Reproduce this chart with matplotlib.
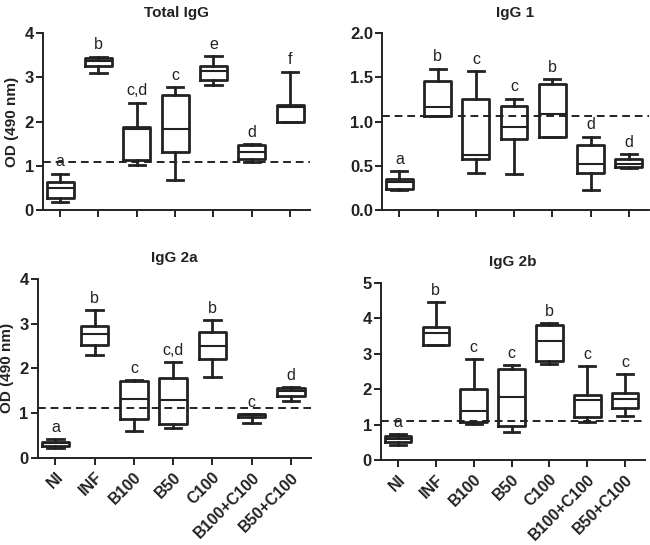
import matplotlib.pyplot as plt

plt.rcParams['font.family'] = ['Liberation Sans', 'DejaVu Sans']

groups = ["NI", "INF", "B100", "B50", "C100", "B100+C100", "B50+C100"]

# Total IgG
tot_lo = [0.17, 3.09, 1.02, 0.68, 2.83, 1.09, 1.98]
tot_q1 = [0.26, 3.26, 1.13, 1.30, 2.94, 1.15, 2.00]
tot_med = [0.49, 3.37, 1.83, 1.83, 3.15, 1.32, 2.32]
tot_q3 = [0.64, 3.45, 1.87, 2.60, 3.25, 1.46, 2.38]
tot_hi = [0.82, 3.47, 2.43, 2.78, 3.49, 1.49, 3.13]
tot_letters = ["a", "b", "c,d", "c", "e", "d", "f"]
tot_cut = 1.09

# IgG 1
g1_lo = [0.23, 1.06, 0.42, 0.41, 0.82, 0.23, 0.47]
g1_q1 = [0.24, 1.06, 0.57, 0.80, 0.83, 0.42, 0.49]
g1_med = [0.32, 1.16, 0.62, 0.94, 1.09, 0.52, 0.52]
g1_q3 = [0.35, 1.46, 1.26, 1.18, 1.42, 0.73, 0.57]
g1_hi = [0.44, 1.60, 1.57, 1.26, 1.48, 0.83, 0.63]
g1_letters = ["a", "b", "c", "c", "b", "d", "d"]
g1_cut = 1.06

# IgG 2a
g2a_lo = [0.21, 2.29, 0.61, 0.67, 1.80, 0.77, 1.28]
g2a_q1 = [0.26, 2.52, 0.86, 0.76, 2.20, 0.91, 1.38]
g2a_med = [0.32, 2.76, 1.32, 1.30, 2.50, 0.95, 1.49]
g2a_q3 = [0.36, 2.96, 1.71, 1.79, 2.81, 0.98, 1.56]
g2a_hi = [0.42, 3.30, 1.74, 2.15, 3.08, 0.98, 1.59]
g2a_letters = ["a", "b", "c", "c,d", "b", "c", "d"]
g2a_cut = 1.11

# IgG 2b
g2b_lo = [0.41, 3.24, 1.02, 0.78, 2.72, 1.06, 1.25]
g2b_q1 = [0.50, 3.24, 1.06, 0.96, 2.80, 1.20, 1.46]
g2b_med = [0.58, 3.58, 1.37, 1.79, 3.37, 1.68, 1.73]
g2b_q3 = [0.68, 3.75, 2.01, 2.58, 3.82, 1.84, 1.89]
g2b_hi = [0.73, 4.46, 2.85, 2.69, 3.87, 2.66, 2.42]
g2b_letters = ["a", "b", "c", "c", "b", "c", "c"]
g2b_cut = 1.11

fig = plt.figure(figsize=(6.5, 5.45), dpi=100)

panels = [
    ("Total IgG", [0.066, 0.615, 0.411, 0.324], tot_lo, tot_q1, tot_med, tot_q3, tot_hi,
     tot_letters, tot_cut, 4, 1, True, False),
    ("IgG 1", [0.588, 0.615, 0.410, 0.324], g1_lo, g1_q1, g1_med, g1_q3, g1_hi,
     g1_letters, g1_cut, 2.0, 0.5, False, False),
    ("IgG 2a", [0.058, 0.160, 0.421, 0.328], g2a_lo, g2a_q1, g2a_med, g2a_q3, g2a_hi,
     g2a_letters, g2a_cut, 4, 1, True, True),
    ("IgG 2b", [0.586, 0.156, 0.406, 0.325], g2b_lo, g2b_q1, g2b_med, g2b_q3, g2b_hi,
     g2b_letters, g2b_cut, 5, 1, False, True),
]

for title, rect, lo, q1, med, q3, hi, letters, cut, ymax, step, ylab, xlab in panels:
    ax = fig.add_axes(rect)
    stats = []
    for i in range(len(groups)):
        stats.append(dict(whislo=lo[i], q1=q1[i], med=med[i], q3=q3[i], whishi=hi[i],
                          fliers=[], label=groups[i]))
    lw = 2.0
    ax.bxp(stats, positions=range(len(groups)), widths=0.7, capwidths=0.42,
           showfliers=False,
           boxprops=dict(color="#222222", linewidth=lw),
           medianprops=dict(color="#222222", linewidth=1.5),
           whiskerprops=dict(color="#222222", linewidth=lw),
           capprops=dict(color="#222222", linewidth=lw))
    ax.axhline(cut, color="#222222", linestyle=(0, (4, 2.5)), linewidth=1.4, zorder=0)
    for i in range(len(groups)):
        ax.annotate(letters[i], (i, hi[i]), xytext=(0, 3), textcoords="offset points",
                    ha="center", va="bottom", fontsize=11.5, color="#222222")
    ax.set_xlim(-0.45, 6.52)
    ax.set_ylim(0, ymax)
    yt = [k * step for k in range(int(round(ymax / step)) + 1)]
    ax.set_yticks(yt)
    if step < 1:
        ax.set_yticklabels([f"{v:.1f}" for v in yt])
    else:
        ax.set_yticklabels([f"{v:g}" for v in yt])
    ax.set_xticks(range(len(groups)))
    if xlab:
        ax.set_xticklabels(groups, rotation=45, ha="right", rotation_mode="anchor",
                           fontsize=11.5, fontweight="bold")
    else:
        ax.set_xticklabels([])
    for lab in ax.get_yticklabels():
        lab.set_fontweight("bold")
        lab.set_fontsize(12)
    ax.spines["top"].set_visible(False)
    ax.spines["right"].set_visible(False)
    for s in ("left", "bottom"):
        ax.spines[s].set_linewidth(1.4)
        ax.spines[s].set_color("#222222")
    ax.tick_params(axis="both", width=1.4, length=5, color="#222222", labelcolor="#222222")
    ax.tick_params(axis="y", pad=1.5)
    ax.set_title(title, fontsize=11, fontweight="bold", color="#222222", pad=12)
    if ylab:
        ax.set_ylabel("OD (490 nm)", fontsize=11, fontweight="bold", color="#222222")
        ax.yaxis.set_label_coords(-0.088, 0.5)

fig.savefig("out.png", dpi=100)
